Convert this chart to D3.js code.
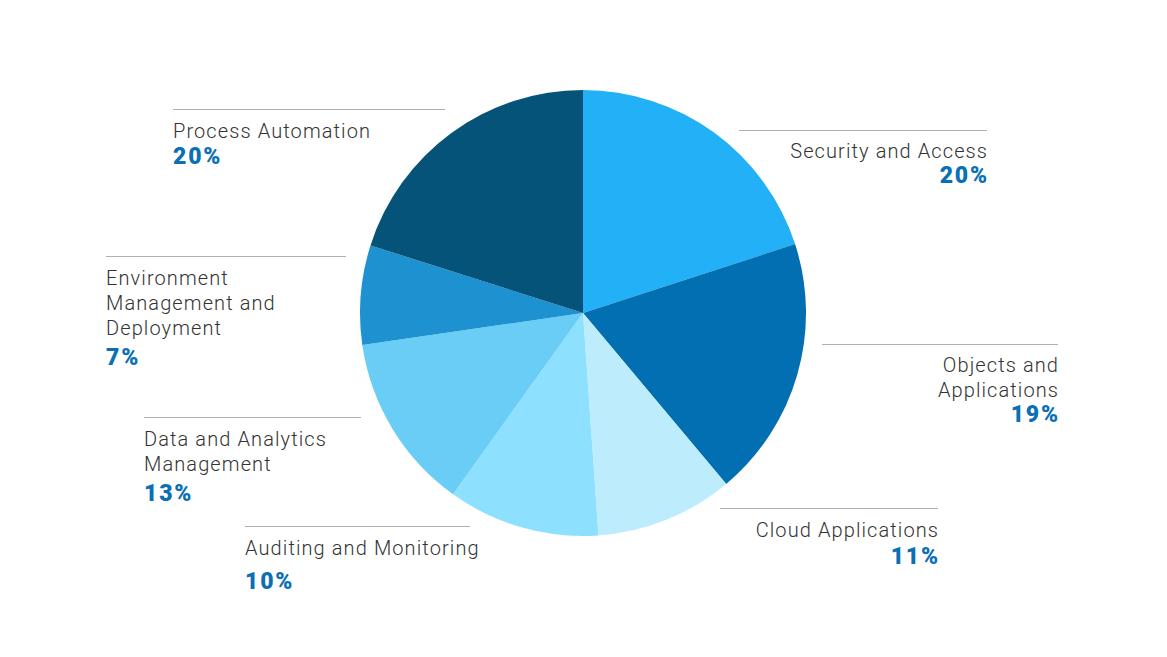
<!DOCTYPE html>
<html>
<head>
<meta charset="utf-8">
<script src="https://cdn.jsdelivr.net/npm/d3@7"></script>
<style>
  html, body { margin: 0; padding: 0; background: #fff; }
  svg { display: block; }
</style>
</head>
<body>
<svg id="chart" width="1167" height="657"></svg>
<script>
// Data (slice shares; printed labels as shown)
const categories = ["Security and Access", "Objects and Applications", "Cloud Applications",
  "Auditing and Monitoring", "Data and Analytics Management", "Environment Management and Deployment",
  "Process Automation"];
const values = [20, 18.9, 10.0, 11.0, 12.8, 7.2, 20.1];
const percentLabels = ["20%", "19%", "11%", "10%", "13%", "7%", "20%"];
const colors = ["#22b0f6", "#026fb2", "#bdedfc", "#8ee1fe", "#69cdf5", "#1e92d0", "#06537a"];

// Label layout (positions only)
const labelLayout = [
  { lines: ["Security and Access"], x1: 739, x2: 987, y: 130, anchor: "end", first: 158, pct: 183 },
  { lines: ["Objects and", "Applications"], x1: 822, x2: 1058, y: 344, anchor: "end", first: 372, pct: 422 },
  { lines: ["Cloud Applications"], x1: 720, x2: 938, y: 508, anchor: "end", first: 537, pct: 564 },
  { lines: ["Auditing and Monitoring"], x1: 245, x2: 470, y: 526, anchor: "start", first: 555, pct: 589 },
  { lines: ["Data and Analytics", "Management"], x1: 144, x2: 361, y: 417, anchor: "start", first: 446, pct: 501 },
  { lines: ["Environment", "Management and", "Deployment"], x1: 106, x2: 346, y: 256, anchor: "start", first: 285, pct: 365 },
  { lines: ["Process Automation"], x1: 173, x2: 445, y: 109, anchor: "start", first: 138, pct: 164 }
];

const svg = d3.select("#chart");
const cx = 583, cy = 313, r = 223;

const pie = d3.pie().sort(null).value(d => d).startAngle(0).endAngle(2 * Math.PI);
const arc = d3.arc().innerRadius(0).outerRadius(r);
const color = d3.scaleOrdinal().domain(categories).range(colors);

const g = svg.append("g").attr("transform", `translate(${cx},${cy})`);
g.selectAll("path")
  .data(pie(values))
  .join("path")
  .attr("d", arc)
  .attr("fill", (d, i) => color(categories[i]));

const labels = svg.append("g");
labelLayout.forEach((L, i) => {
  labels.append("line")
    .attr("x1", L.x1).attr("x2", L.x2)
    .attr("y1", L.y + 0.5).attr("y2", L.y + 0.5)
    .attr("stroke", "#b0b0b0").attr("stroke-width", 1);
  const end = L.anchor === "end";
  const tx = end ? L.x2 : L.x1;
  L.lines.forEach((t, j) => {
    labels.append("text")
      .attr("x", end ? tx + 1.1 : tx).attr("y", L.first + j * 25)
      .attr("text-anchor", L.anchor)
      .attr("font-family", "Roboto, 'Open Sans', sans-serif")
      .attr("font-weight", 300)
      .attr("font-size", 20)
      .attr("letter-spacing", 1.1)
      .attr("fill", "#333")
      .text(t);
  });
  labels.append("text")
    .attr("x", end ? tx + 1.8 : tx).attr("y", L.pct)
    .attr("text-anchor", L.anchor)
    .attr("font-family", "Roboto, 'Open Sans', sans-serif")
    .attr("font-weight", 900)
    .attr("font-size", 23)
    .attr("letter-spacing", 1.8)
    .attr("fill", "#0a6fb5")
    .text(percentLabels[i]);
});
</script>
</body>
</html>
